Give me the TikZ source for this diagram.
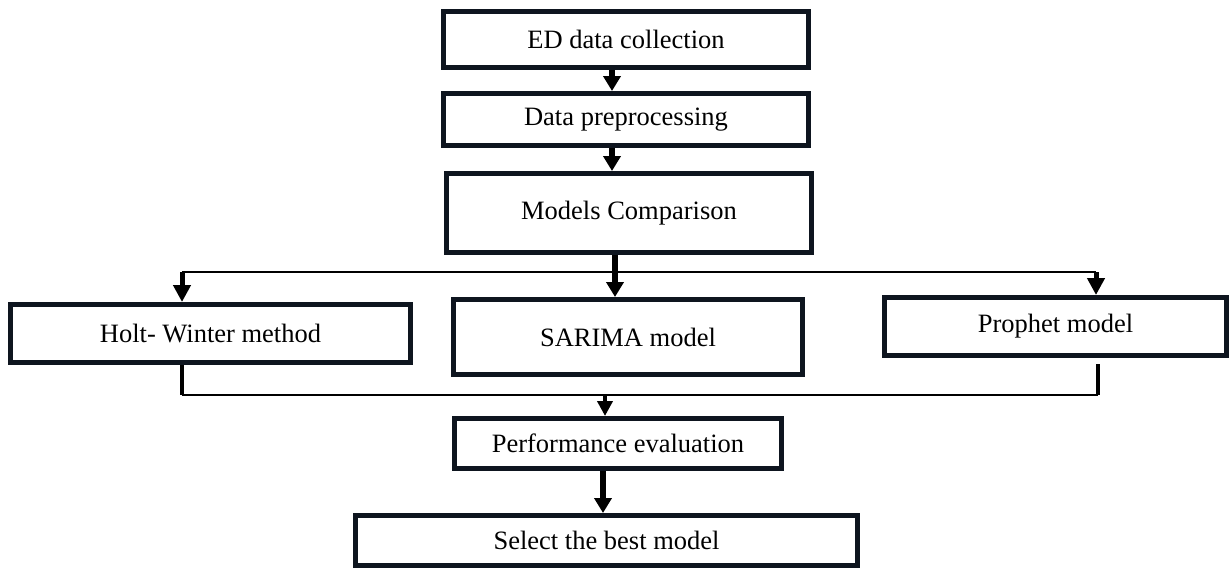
\documentclass[tikz,border=0pt]{standalone}
\usepackage{fontspec}
\setmainfont{Liberation Serif}
\usetikzlibrary{arrows.meta}
\definecolor{boxline}{RGB}{14,21,31}
\begin{document}
\begin{tikzpicture}[x=1pt,y=-1pt,
  stage/.style={draw=boxline, line width=5pt, fill=white, inner sep=0pt,
    font=\fontsize{26.5}{30}\selectfont},
  flow/.style={line width=6pt, -{Triangle[width=17pt,length=15pt]}},
  drop/.style={line width=5pt, -{Triangle[width=17pt,length=17pt]}},
  thindrop/.style={line width=4pt, -{Triangle[width=15pt,length=15pt]}},
  rail/.style={line width=2pt},
  stem/.style={line width=4pt}]
\useasboundingbox[fill=white] (0,0) rectangle (1231,570);

% process stages
\node[stage, minimum width=365pt, minimum height=56pt] (collect) at (626,39.5) {ED data collection};
\node[stage, minimum width=365pt, minimum height=52pt] (prep) at (626,119.5) {Data preprocessing};
\node[stage, minimum width=365pt, minimum height=79pt] (compare) at (629,213) {Models Comparison};
\node[stage, minimum width=400pt, minimum height=58pt] (holt) at (210.5,333.5) {Holt- Winter method};
\node[stage, minimum width=349pt, minimum height=75pt] (sarima) at (628,337) {SARIMA model};
\node[stage, minimum width=342pt, minimum height=58pt] (prophet) at (1055.5,326.5) {Prophet model};
\node[stage, minimum width=327pt, minimum height=50pt] (perf) at (618,443.5) {Performance evaluation};
\node[stage, minimum width=502pt, minimum height=50pt] (select) at (606.5,540.5) {Select the best model};

% column and row guides for the connectors
\coordinate (c1) at (612,0);
\coordinate (c2) at (615,0);
\coordinate (cl) at (182,0);
\coordinate (cr) at (1096,0);
\coordinate (crb) at (1098,0);
\coordinate (c3) at (605,0);
\coordinate (c4) at (603,0);
\coordinate (split) at (0,272);
\coordinate (merge) at (0,395);

% main chain
\draw[flow] (collect.south -| c1) -- (prep.north -| c1);
\draw[flow] (prep.south -| c1) -- (compare.north -| c1);
\draw[flow] (compare.south -| c2) -- (sarima.north -| c2);

% branching to the three models
\draw[rail] (split -| cl) -- (split -| cr);
\draw[drop] (split -| cl) -- (holt.north -| cl);
\draw[drop] (split -| cr) -- (prophet.north -| cr);

% merging back to evaluation
\draw[stem] (holt.south -| cl) -- (merge -| cl);
\draw[stem, shorten <=6pt] (prophet.south -| crb) -- (merge -| crb);
\draw[rail] (merge -| cl) -- (merge -| crb);
\draw[thindrop] (merge -| c3) -- (perf.north -| c3);
\draw[flow] (perf.south -| c4) -- (select.north -| c4);
\end{tikzpicture}
\end{document}
